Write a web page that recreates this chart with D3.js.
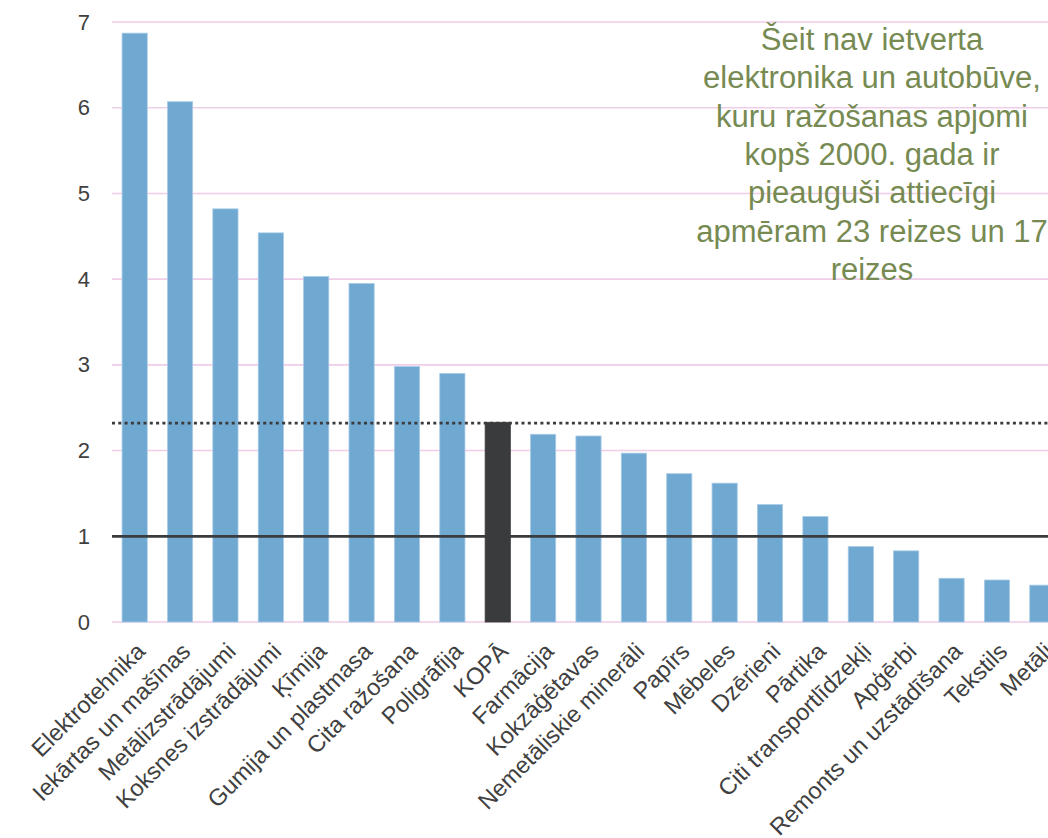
<!DOCTYPE html>
<html>
<head>
<meta charset="utf-8">
<script src="https://cdn.jsdelivr.net/npm/d3@7"></script>
<style>
  body { margin: 0; background: #fff; overflow: hidden; }
  svg { display: block; font-family: "Liberation Sans", Arial, sans-serif; }
</style>
</head>
<body>
<div id="viz"></div>
<script>
const categories = ["Elektrotehnika", "Iekārtas un mašīnas", "Metālizstrādājumi", "Koksnes izstrādājumi",
  "Ķīmija", "Gumija un plastmasa", "Cita ražošana", "Poligrāfija", "KOPĀ", "Farmācija",
  "Kokzāģētavas", "Nemetāliskie minerāli", "Papīrs", "Mēbeles", "Dzērieni", "Pārtika",
  "Citi transportlīdzekļi", "Apģērbi", "Remonts un uzstādīšana", "Tekstils", "Metāli"];
const values = [6.87, 6.07, 4.82, 4.54, 4.03, 3.95, 2.98, 2.90, 2.33, 2.19,
  2.17, 1.97, 1.73, 1.62, 1.37, 1.23, 0.88, 0.83, 0.51, 0.49, 0.43];
const yTicks = [0, 1, 2, 3, 4, 5, 6, 7];
const totalLine = 2.32;
const baseLine = 1;
const noteLines = ["Šeit nav ietverta", "elektronika un autobūve,", "kuru ražošanas apjomi",
  "kopš 2000. gada ir", "pieauguši attiecīgi", "apmēram 23 reizes un 17", "reizes"];

const width = 1048, height = 838;
const margin = {left: 112, top: 22};
const plotRight = 1065;
const plotBottom = 622;

const svg = d3.select("#viz").append("svg")
    .attr("width", width)
    .attr("height", height);

const x = d3.scaleBand()
    .domain(categories)
    .range([margin.left, plotRight])
    .paddingInner(0.445)
    .paddingOuter(0.222);

const y = d3.scaleLinear()
    .domain([0, 7])
    .range([plotBottom, margin.top]);

// grid
svg.append("g")
  .selectAll("line")
  .data(yTicks)
  .enter().append("line")
    .attr("x1", margin.left)
    .attr("x2", width)
    .attr("y1", d => y(d))
    .attr("y2", d => y(d))
    .attr("stroke", "#f0cde8")
    .attr("stroke-width", 1.6);

// y axis labels
const yAxis = d3.axisLeft(y).tickValues(yTicks).tickFormat(d3.format("d")).tickSize(0).tickPadding(0);
svg.append("g")
    .attr("transform", `translate(90,0)`)
    .call(yAxis)
    .call(g => g.select(".domain").remove())
    .call(g => g.selectAll("text")
        .attr("font-size", 22)
        .attr("font-family", "Liberation Sans, Arial, sans-serif")
        .attr("fill", "#404040"));

// bars
svg.append("g")
  .selectAll("rect")
  .data(categories)
  .enter().append("rect")
    .attr("x", d => x(d))
    .attr("width", x.bandwidth())
    .attr("y", (d, i) => y(values[i]))
    .attr("height", (d, i) => y(0) - y(values[i]))
    .attr("fill", d => d === "KOPĀ" ? "#3a3b3d" : "#6fa9d2")
    .attr("stroke", d => d === "KOPĀ" ? "#3a3b3d" : "#a9cbe6")
    .attr("stroke-width", 0.8);

// reference lines
svg.append("line")
    .attr("x1", margin.left).attr("x2", width)
    .attr("y1", y(totalLine)).attr("y2", y(totalLine))
    .attr("stroke", "#3a3b3d")
    .attr("stroke-width", 2.6)
    .attr("stroke-dasharray", "3,3.3");

svg.append("line")
    .attr("x1", margin.left).attr("x2", width)
    .attr("y1", y(baseLine)).attr("y2", y(baseLine))
    .attr("stroke", "#3a3b3d")
    .attr("stroke-width", 2.8);

// x labels
svg.append("g")
  .selectAll("text")
  .data(categories)
  .enter().append("text")
    .attr("transform", d => `translate(${x(d) + x.bandwidth() / 2 + 6},${plotBottom + 25}) rotate(-45)`)
    .attr("text-anchor", "end")
    .attr("dy", "0.35em")
    .attr("font-size", 23.5)
    .attr("fill", "#404040")
    .text(d => d);

// note
svg.append("text")
    .attr("x", 872)
    .attr("y", 50)
    .attr("text-anchor", "middle")
    .attr("font-size", 31)
    .attr("fill", "#768a52")
  .selectAll("tspan")
  .data(noteLines)
  .enter().append("tspan")
    .attr("x", 872)
    .attr("dy", (d, i) => i === 0 ? 0 : 38.3)
    .text(d => d);
</script>
</body>
</html>
